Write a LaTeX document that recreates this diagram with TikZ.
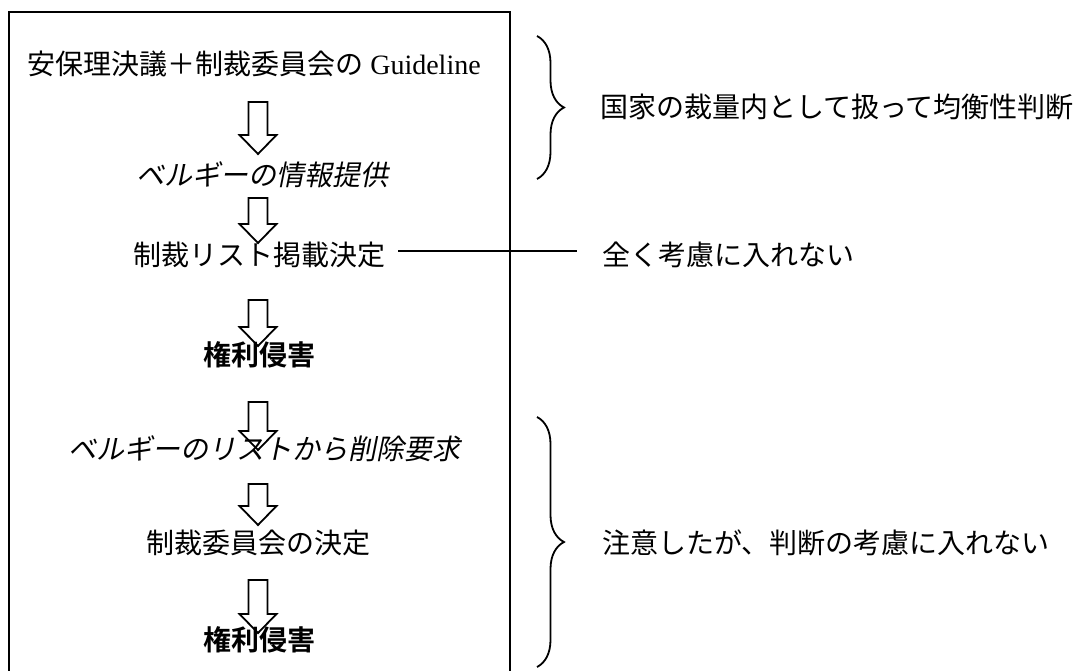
\documentclass[tikz,border=0pt]{standalone}
\usepackage{fontspec}
\setmainfont{Liberation Serif}
\newfontfamily\cjk{Noto Sans CJK JP}
\newfontfamily\cjkit{Noto Sans CJK JP}[FakeSlant=0.2]
\newfontfamily\cjkbf{Noto Sans CJK JP Bold}
\usetikzlibrary{decorations.pathreplacing}
\newcommand\downblock[3]{%
  \draw[blockarr] ({#1-9.5},#2) -- ({#1+9.5},#2) -- ({#1+9.5},{#3-19}) -- ({#1+18.5},{#3-19}) -- (#1,#3) -- ({#1-18.5},{#3-19}) -- ({#1-9.5},{#3-19}) -- cycle;}
\begin{document}
\begin{tikzpicture}[x=1pt,y=-1pt,
  txt/.style={inner sep=0pt, font=\fontsize{28}{30}\selectfont\cjk},
  txtit/.style={inner sep=0pt, font=\fontsize{28}{30}\selectfont\cjkit},
  txtbf/.style={inner sep=0pt, font=\fontsize{28}{30}\selectfont\cjkbf},
  blockarr/.style={draw=black, line width=1.8pt, line join=miter},
  frame/.style={draw=black, line width=2pt},
  conn/.style={draw=black, line width=1.8pt},
  bracestyle/.style={draw=black, line width=1.8pt, decorate, decoration={brace, amplitude=27pt, aspect=0.5}}]
\useasboundingbox (0,0) rectangle (1078,671);
\draw[frame] (9,675) -- (9,12.5) -- (510,12.5) -- (510,675);
\node[txt] (t1) at (254,64) {安保理決議＋制裁委員会の{\fontsize{28}{30}\selectfont\rmfamily\ Guideline}};
\node[txtit] (t2) at (262,175) {ベルギーの情報提供};
\node[txt] (t3) at (259,255) {制裁リスト掲載決定};
\node[txtbf] (t4) at (259,355) {権利侵害};
\node[txtit] (t5) at (264,449) {ベルギーのリストから削除要求};
\node[txt] (t6) at (258,543) {制裁委員会の決定};
\node[txtbf] (t7) at (259,640) {権利侵害};
\downblock{258}{102}{154}
\downblock{258}{198}{243}
\downblock{258}{300}{346}
\downblock{258}{402}{450}
\downblock{258}{484}{525}
\downblock{258}{580}{633}
\node[txt, anchor=west] (r2) at (602,255) {全く考慮に入れない};
\coordinate (lineend) at (577,251);
\draw[conn] (398,251) -- (lineend);
\coordinate (b1top) at (537,36);
\coordinate (b1bot) at (537,179);
\draw[bracestyle] (b1top) -- (b1bot);
\node[txt, anchor=west] (r1) at (600,107) {国家の裁量内として扱って均衡性判断};
\coordinate (b2top) at (537,417);
\coordinate (b2bot) at (537,667);
\draw[bracestyle] (b2top) -- (b2bot);
\node[txt, anchor=west] (r3) at (602,543) {注意したが、判断の考慮に入れない};
\end{tikzpicture}
\end{document}
